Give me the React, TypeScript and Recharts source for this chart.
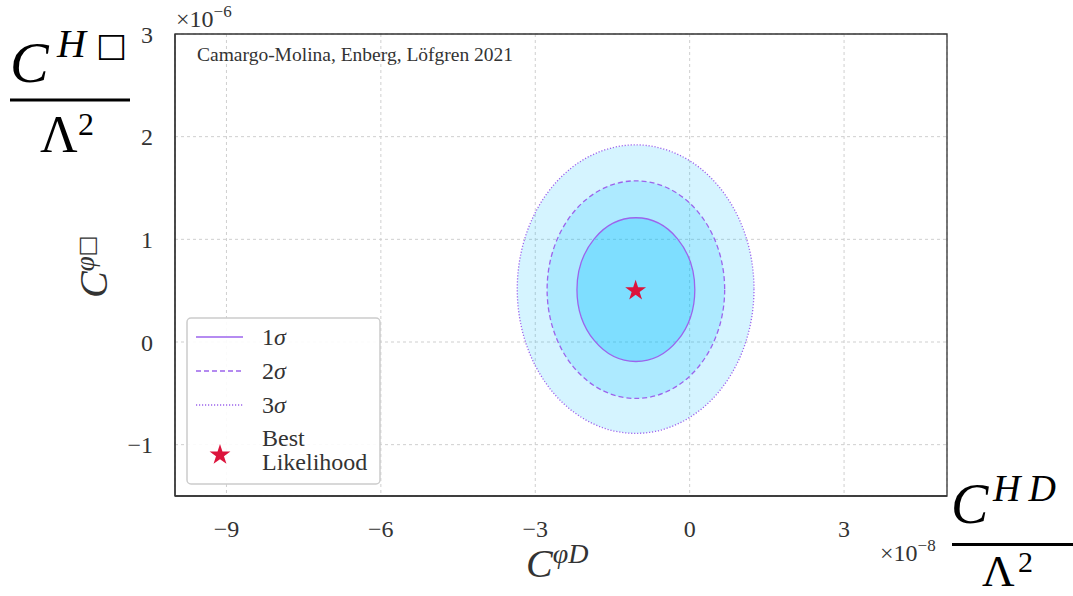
import React from 'react';
import {
  ScatterChart,
  Scatter,
  XAxis,
  YAxis,
  CartesianGrid,
  ReferenceArea,
  Symbols,
} from 'recharts';

// ---- data ----
const xTicks = [-9, -6, -3, 0, 3];
const yTicks = [-1, 0, 1, 2, 3];
const xDomain: [number, number] = [-10, 5];
const yDomain: [number, number] = [-1.5, 3];

const sigmaLabels = ['1σ', '2σ', '3σ'];
const sigmaXMin = [-2.19, -2.77, -3.35];
const sigmaXMax = [0.1, 0.68, 1.25];
const sigmaYMin = [-0.19, -0.55, -0.89];
const sigmaYMax = [1.21, 1.57, 1.92];

const bestFitX = [-1.05];
const bestFitY = [0.5];
const bestFitLabel = ['Best', 'Likelihood'];

const annotation = 'Camargo-Molina, Enberg, Löfgren 2021';

// ---- styles ----
const SERIF = '"Liberation Serif", "DejaVu Serif", serif';
const SYM = '"DejaVu Sans", sans-serif';
const TEXT = '#333';
const LINE = '#9c64ec';
const FILL = '#00bfff';
const STAR = '#dc143c';
const STAR_SIZE = 135;
const sigmaDash = ['', '5 3', '1.2 1.8'];
const sigmaOpacity = [0.27, 0.183, 0.165];

const bestFit = bestFitX.map((x, i) => ({ x, y: bestFitY[i] }));

const fmt = (v: number) => (v < 0 ? `−${Math.abs(v)}` : `${v}`);

const ellipseShape = (i: number) => (props: any) => {
  const { x, y, width, height } = props;
  return (
    <ellipse
      cx={x + width / 2}
      cy={y + height / 2}
      rx={Math.abs(width) / 2}
      ry={Math.abs(height) / 2}
      fill={FILL}
      fillOpacity={sigmaOpacity[i]}
      stroke={LINE}
      strokeWidth={1.3}
      strokeDasharray={sigmaDash[i]}
    />
  );
};

const starShape = (props: any) => (
  <Symbols cx={props.cx} cy={props.cy} type="star" size={STAR_SIZE} fill={STAR} />
);

export default function App() {
  const order = [2, 1, 0];
  return (
    <div
      style={{
        position: 'absolute',
        left: 0,
        top: 0,
        width: 1073,
        height: 596,
        background: '#fff',
        fontFamily: SERIF,
      }}
    >
      <ScatterChart
        width={1073}
        height={596}
        margin={{ top: 34, right: 126, bottom: 0, left: 0 }}
      >
        <CartesianGrid stroke="#cfcfcf" strokeDasharray="3 3" strokeWidth={1} />
        <XAxis
          type="number"
          dataKey="x"
          domain={xDomain}
          ticks={xTicks}
          allowDataOverflow
          height={100}
          tickLine={false}
          tickSize={8}
          tickMargin={16}
          axisLine={{ stroke: '#333', strokeWidth: 1.3 }}
          tick={{ fontSize: 24, fill: TEXT, fontFamily: SERIF }}
          tickFormatter={fmt}
        />
        <YAxis
          type="number"
          dataKey="y"
          domain={yDomain}
          ticks={yTicks}
          allowDataOverflow
          width={175}
          tickLine={false}
          tickSize={8}
          tickMargin={14}
          axisLine={{ stroke: '#333', strokeWidth: 1.3 }}
          tick={{ fontSize: 24, fill: TEXT, fontFamily: SERIF }}
          tickFormatter={fmt}
        />
        {order.map((i) => (
          <ReferenceArea
            key={sigmaLabels[i]}
            x1={sigmaXMin[i]}
            x2={sigmaXMax[i]}
            y1={sigmaYMin[i]}
            y2={sigmaYMax[i]}
            shape={ellipseShape(i)}
          />
        ))}
        <ReferenceArea
          x1={xDomain[0]}
          x2={xDomain[1]}
          y1={yDomain[0]}
          y2={yDomain[1]}
          fill="none"
          fillOpacity={0}
          stroke="#333"
          strokeWidth={1.3}
        />
        <Scatter
          data={bestFit}
          fill={STAR}
          shape={starShape}
          isAnimationActive={false}
        />
      </ScatterChart>

      <svg
        width={1073}
        height={596}
        style={{ position: 'absolute', left: 0, top: 0, pointerEvents: 'none' }}
      >
        {/* annotation */}
        <text x={197} y={61} fontSize={19.5} fill={TEXT} fontFamily={SERIF}>
          {annotation}
        </text>

        {/* ×10^-6 */}
        <text x={176} y={27} fontSize={24} fill={TEXT} fontFamily={SERIF}>
          ×10
          <tspan fontSize={17} dy={-10}>−6</tspan>
        </text>

        {/* ×10^-8 */}
        <text x={880} y={561} fontSize={24} fill={TEXT} fontFamily={SERIF}>
          ×10
          <tspan fontSize={17} dy={-10}>−8</tspan>
        </text>

        {/* top-left big label C^{H□}/Λ² */}
        <text x={10} y={82} fontSize={58} fontStyle="italic" fill="#000" fontFamily={SERIF}>
          C
        </text>
        <text x={57} y={57} fontSize={40} fontStyle="italic" fill="#000" fontFamily={SERIF}>
          H
        </text>
        <text x={96} y={56} fontSize={33} fill="#000" fontFamily={SYM}>
          □
        </text>
        <rect x={10} y={98.5} width={120} height={3} fill="#000" />
        <text x={40} y={152} fontSize={52} fill="#000" fontFamily={SERIF}>
          Λ
        </text>
        <text x={78} y={135} fontSize={32} fill="#000" fontFamily={SERIF}>
          2
        </text>

        {/* bottom-right big label C^{HD}/Λ² */}
        <text x={951} y={523} fontSize={56} fontStyle="italic" fill="#000" fontFamily={SERIF}>
          C
        </text>
        <text x={993} y={501} fontSize={38} fontStyle="italic" fill="#000" fontFamily={SERIF} letterSpacing={8}>
          HD
        </text>
        <rect x={952} y={543} width={121} height={3} fill="#000" />
        <text x={982} y={586} fontSize={45} fill="#000" fontFamily={SERIF}>
          Λ
        </text>
        <text x={1018} y={572} fontSize={30} fill="#000" fontFamily={SERIF}>
          2
        </text>

        {/* y axis label C^{φ□} */}
        <text transform="translate(107,298) rotate(-90)" fill={TEXT} fontFamily={SERIF}>
          <tspan fontSize={40} fontStyle="italic">C</tspan>
          <tspan fontSize={27} fontStyle="italic" dy={-13}>φ</tspan>
          <tspan fontSize={22} fontFamily={SYM}>□</tspan>
        </text>

        {/* x axis label C^{φD} */}
        <text x={526} y={577} fill={TEXT} fontFamily={SERIF}>
          <tspan fontSize={40} fontStyle="italic">C</tspan>
          <tspan fontSize={28} fontStyle="italic" dy={-14}>φD</tspan>
        </text>

        {/* legend */}
        <rect
          x={187}
          y={318}
          width={193}
          height={166}
          rx={4}
          fill="#fff"
          fillOpacity={0.9}
          stroke="#cccccc"
          strokeWidth={1.5}
        />
        {sigmaLabels.map((lab, i) => (
          <g key={lab}>
            <line
              x1={196}
              x2={243}
              y1={337 + i * 34}
              y2={337 + i * 34}
              stroke={LINE}
              strokeWidth={1.3}
              strokeDasharray={sigmaDash[i]}
            />
            <text x={262} y={345 + i * 34} fontSize={24} fill={TEXT} fontFamily={SERIF}>
              {lab.slice(0, 1)}
              <tspan fontStyle="italic">{lab.slice(1)}</tspan>
            </text>
          </g>
        ))}
        <Symbols cx={220} cy={455} type="star" size={STAR_SIZE} fill={STAR} />
        <text x={262} y={446} fontSize={24} fill={TEXT} fontFamily={SERIF}>
          {bestFitLabel[0]}
        </text>
        <text x={262} y={470} fontSize={24} fill={TEXT} fontFamily={SERIF}>
          {bestFitLabel[1]}
        </text>
      </svg>
    </div>
  );
}
